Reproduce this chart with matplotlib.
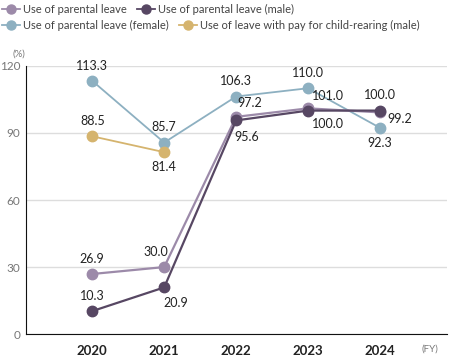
import matplotlib.pyplot as plt
from matplotlib.lines import Line2D

plt.rcParams['font.family'] = ['Lato', 'DejaVu Sans']

years = [2020, 2021, 2022, 2023, 2024]
overall = [26.9, 30.0, 97.2, 101.0, 99.2]
male = [10.3, 20.9, 95.6, 100.0, 100.0]
female = [113.3, 85.7, 106.3, 110.0, 92.3]
paid_years = [2020, 2021]
paid_male = [88.5, 81.4]

c_overall = '#9c8aa9'
c_male = '#574763'
c_female = '#8db0c1'
c_paid = '#d5b46e'

fig = plt.figure(figsize=(4.5, 3.62), dpi=100)
ax = fig.add_axes([0.058, 0.077, 0.935, 0.741])

ax.plot(years, female, color=c_female, marker='o', ms=7.5, lw=1.3, zorder=3)
ax.plot(paid_years, paid_male, color=c_paid, marker='o', ms=7.5, lw=1.3, zorder=3)
ax.plot(years, overall, color=c_overall, marker='o', ms=7.5, lw=1.6, zorder=4)
ax.plot(years, male, color=c_male, marker='o', ms=7.5, lw=1.6, zorder=5)

# data labels: (dx, dy) in points
def lab(x, y, dx, dy):
    ax.annotate(f'{y:.1f}', (x, y), xytext=(dx, dy), textcoords='offset points',
                ha='center', va='center', fontsize=9, color='#222222', zorder=6)

off_overall = [(0, 11), (-6, 11), (10, 10), (14, 9), (14, -5)]
off_male = [(0, 11), (8, -11), (8, -12), (14, -10), (0, 11)]
off_female = [(0, 11), (0, 11), (0, 11), (0, 11), (0, -11)]
off_paid = [(0, 11), (0, -11)]
for xs, ys, offs in [(years, overall, off_overall), (years, male, off_male),
                     (years, female, off_female), (paid_years, paid_male, off_paid)]:
    for x, y, (dx, dy) in zip(xs, ys, offs):
        lab(x, y, dx, dy)

ax.set_xlim(2019.08, 2024.93)
ax.set_ylim(0, 120)
ax.set_yticks([0, 30, 60, 90, 120])
ax.set_xticks(years)
ax.grid(axis='y', color='#dddddd', lw=1)
ax.set_axisbelow(True)
for s in ['top', 'right']:
    ax.spines[s].set_visible(False)
ax.spines['left'].set_color('#111111')
ax.spines['bottom'].set_color('#111111')
ax.tick_params(axis='y', length=0, labelsize=8.5, labelcolor='#777777', pad=4)
ax.tick_params(axis='x', length=0, labelsize=9.5, labelcolor='#222222', pad=8)
for t in ax.get_xticklabels():
    t.set_fontweight('bold')

fig.text(0.028, 0.845, '(%)', fontsize=7, color='#777777')
fig.text(0.955, 0.028, '(FY)', fontsize=7, color='#777777', ha='center')

def handle(c):
    return Line2D([], [], color=c, marker='o', ms=6.5, lw=1.3)

leg_kw = dict(frameon=False, fontsize=8, handlelength=1.6, handletextpad=0.3,
              columnspacing=0.9, borderaxespad=0, borderpad=0)
leg1 = fig.legend([handle(c_overall), handle(c_male)],
                  ['Use of parental leave', 'Use of parental leave (male)'],
                  loc='upper left', bbox_to_anchor=(0.005, 0.99), ncol=2, **leg_kw)
for t in leg1.get_texts():
    t.set_color('#444444')
leg2 = fig.legend([handle(c_female), handle(c_paid)],
                  ['Use of parental leave (female)', 'Use of leave with pay for child-rearing (male)'],
                  loc='upper left', bbox_to_anchor=(0.005, 0.945), ncol=2, **leg_kw)
for t in leg2.get_texts():
    t.set_color('#444444')

fig.savefig('out.png', dpi=100)
